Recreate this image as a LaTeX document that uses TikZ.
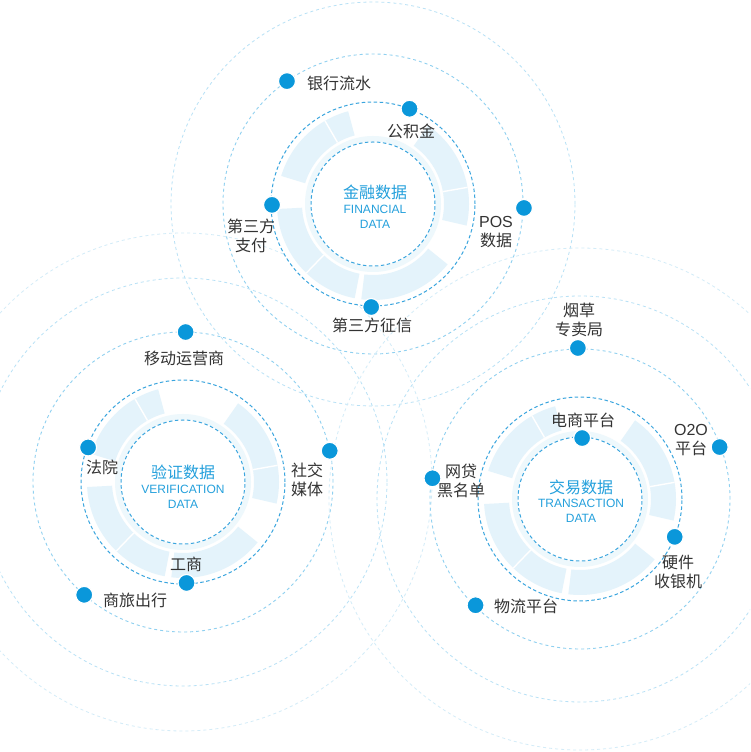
\documentclass[tikz,border=0pt]{standalone}
\usepackage{fontspec}
\setmainfont{Noto Sans CJK SC}
\newfontfamily\lat{Liberation Sans}
\definecolor{midc}{HTML}{3AA5DE}
\definecolor{lc1}{HTML}{8FD0F0}
\definecolor{lc2}{HTML}{B8E1F6}
\definecolor{lc3}{HTML}{D3ECF8}
\definecolor{bandc}{HTML}{E4F3FB}
\definecolor{stripc}{HTML}{EEF8FC}
\definecolor{dotc}{HTML}{0A97DA}
\definecolor{txtc}{HTML}{333333}
\definecolor{ctrc}{HTML}{24A0DC}
\tikzset{
  midring/.style={draw=midc,line width=1pt,dash pattern=on 3.5pt off 2.5pt},
  ring1/.style={draw=lc1,line width=0.9pt,dash pattern=on 3pt off 3pt},
  ring2/.style={draw=lc2,line width=0.8pt,dash pattern=on 3pt off 3pt},
  ring3/.style={draw=lc3,line width=0.8pt,dash pattern=on 3pt off 3pt},
  dotn/.style={circle,fill=dotc,draw=white,line width=1.2pt,inner sep=0pt,minimum size=17pt},
  lab/.style={text=txtc,font=\fontsize{16}{19}\selectfont,inner sep=0pt,align=center},
  ctrzh/.style={text=ctrc,font=\fontsize{16}{18}\selectfont,inner sep=0pt},
  ctren/.style={text=ctrc,font=\lat\fontsize{12}{14}\selectfont,inner sep=0pt},
  divl/.style={draw=white,line width=1.4pt}
}
\newcommand\bseg[2]{\fill[bandc] (#1:71) arc[start angle=#1,end angle=#2,radius=71] -- (#2:96) arc[start angle=#2,end angle=#1,radius=96] -- cycle;}
\newcommand\drawband{%
  \fill[white] (0,0) circle[radius=101];
  \fill[stripc] (0,0) circle[radius=68];
  \fill[white] (0,0) circle[radius=62.5];
  \bseg{105}{163}
  \bseg{183}{259}
  \bseg{263}{321}
  \bseg{347}{415}
  \draw[divl] (120:71) -- (120:96);
  \draw[divl] (226:71) -- (226:96);
  \draw[divl] (370:71) -- (370:96);
  \draw[midring] (0,0) circle[radius=62];
  \draw[midring] (0,0) circle[radius=102];
}
\begin{document}
\begin{tikzpicture}[x=1pt,y=1pt]
\useasboundingbox (0,0) rectangle (750,752);
\clip (0,0) rectangle (750,752);
\fill[white] (0,0) rectangle (750,752);
% outer rings
\draw[ring1] (373,548) circle[radius=150];
\draw[ring2] (373,548) circle[radius=202];
\draw[ring1] (183,270) circle[radius=150];
\draw[ring2] (183,270) circle[radius=204];
\draw[ring3] (183,270) circle[radius=249];
\draw[ring1] (580,253) circle[radius=150];
\draw[ring2] (580,253) circle[radius=203];
\draw[ring3] (580,253) circle[radius=251];
% bands
\begin{scope}[shift={(373,548)}]\drawband\end{scope}
\begin{scope}[shift={(183,270)}]\drawband\end{scope}
\begin{scope}[shift={(580,253)}]\drawband\end{scope}
% top cluster: financial
\begin{scope}[shift={(373,548)}]
  \node[dotn] (t1) at (125:150) {};
  \node[dotn] (t2) at (69:102) {};
  \node[dotn] (t3) at (-1.5:151) {};
  \node[dotn] (t4) at (180.5:101) {};
  \node[dotn] (t5) at (-91:103) {};
\end{scope}
\node[lab,anchor=west] (tl1) at (307,669) {银行流水};
\node[lab] (tl2) at (411,621) {公积金};
\node[lab] (tl3) at (496,520) {{\lat POS}\\数据};
\node[lab] (tl4) at (251,516) {第三方\\支付};
\node[lab] (tl5) at (372,427) {第三方征信};
\node[ctrzh] (tc1) at (375,560) {金融数据};
\node[ctren] (tc2) at (375,543) {FINANCIAL};
\node[ctren] (tc3) at (375,528) {DATA};
% left cluster: verification
\begin{scope}[shift={(183,270)}]
  \node[dotn] (l1) at (89:150) {};
  \node[dotn] (l2) at (160:101) {};
  \node[dotn] (l3) at (12:150) {};
  \node[dotn] (l4) at (-88:101) {};
  \node[dotn] (l5) at (228.8:150) {};
\end{scope}
\node[lab] (ll1) at (184,394) {移动运营商};
\node[lab] (ll2) at (102,285) {法院};
\node[lab] (ll3) at (307,272) {社交\\媒体};
\node[lab] (ll4) at (186,188) {工商};
\node[lab,anchor=west] (ll5) at (103,152) {商旅出行};
\node[ctrzh] (lc1n) at (183,280) {验证数据};
\node[ctren] (lc2n) at (183,263) {VERIFICATION};
\node[ctren] (lc3n) at (183,248) {DATA};
% right cluster: transaction
\begin{scope}[shift={(580,253)}]
  \node[dotn] (r1) at (90.8:151) {};
  \node[dotn] (r2) at (88:61) {};
  \node[dotn] (r3) at (20.4:149) {};
  \node[dotn] (r4) at (172:149) {};
  \node[dotn] (r5) at (-21.8:102) {};
  \node[dotn] (r6) at (225.5:149) {};
\end{scope}
\node[lab] (rl1) at (579,432) {烟草\\专卖局};
\node[lab] (rl2) at (583,332) {电商平台};
\node[lab] (rl3) at (691,312) {{\lat O2O}\\平台};
\node[lab] (rl4) at (461,271) {网贷\\黑名单};
\node[lab] (rl5) at (678,180) {硬件\\收银机};
\node[lab,anchor=west] (rl6) at (494,146) {物流平台};
\node[ctrzh] (rc1) at (581,265) {交易数据};
\node[ctren] (rc2) at (581,249) {TRANSACTION};
\node[ctren] (rc3) at (581,234) {DATA};
\end{tikzpicture}
\end{document}
